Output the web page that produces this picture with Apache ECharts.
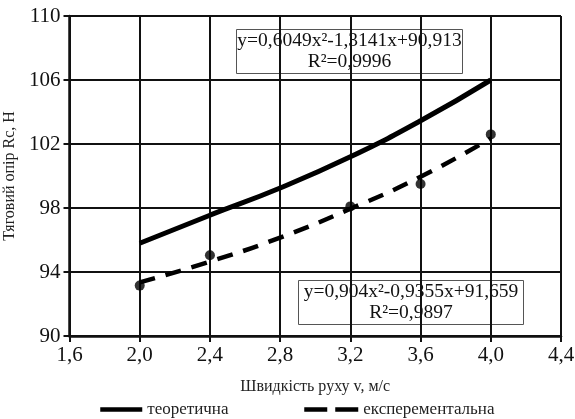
<!DOCTYPE html>
<html>
<head>
<meta charset="utf-8">
<script src="https://cdn.jsdelivr.net/npm/echarts@6/dist/echarts.min.js"></script>
<style>
html,body{margin:0;padding:0;background:#fff;}
#chart{width:575px;height:419px;}
</style>
</head>
<body>
<div id="chart"></div>
<script>
// Speed values, m/s
const speeds = [2.0, 2.4, 2.8, 3.2, 3.6, 4.0];
// Theoretical traction resistance, N
const theoretical = [95.8, 97.55, 99.25, 101.2, 103.45, 106.0];
// Trend through the experimental measurements, N
const experimentalTrend = [93.35, 94.65, 96.15, 97.95, 99.95, 102.35];
// Measured points (speed, resistance)
const measuredSpeeds = [2.0, 2.4, 3.2, 3.6, 4.0];
const measuredValues = [93.15, 95.05, 98.1, 99.5, 102.6];

const seriesNames = ['теоретична', 'експерементальна'];
const xTitle = 'Швидкість руху v, м/с';
const yTitle = 'Тяговий опір Rc, Н';
const eqTheory = ['y=0,6049x²-1,3141x+90,913', 'R²=0,9996'];
const eqExp = ['y=0,904x²-0,9355x+91,659', 'R²=0,9897'];

const font = 'Liberation Serif, Times New Roman, serif';
const chart = echarts.init(document.getElementById('chart'), null, {renderer: 'canvas'});

const pairs = (xs, ys) => xs.map((x, i) => [x, ys[i]]);

function eqBox(lines, left, top, w, h) {
  return {
    type: 'group', left: left, top: top,
    children: [
      {type: 'rect', shape: {x: 0, y: 0, width: w, height: h},
       style: {fill: '#fff', stroke: '#555', lineWidth: 1}},
      {type: 'text', style: {x: w / 2, y: 1, text: lines.join('\n'), align: 'center', verticalAlign: 'top',
        font: '19.5px ' + font, lineHeight: 21, fill: '#111'}}
    ]
  };
}

const legendText = {fontFamily: font, fontSize: 17, color: '#222'};

chart.setOption({
  animation: false,
  backgroundColor: '#fff',
  grid: {left: 69.5, right: 14, top: 16, bottom: 83, containLabel: false, outerBoundsMode: 'none'},
  xAxis: {
    type: 'value', min: 1.6, max: 4.4, interval: 0.4,
    name: xTitle, nameLocation: 'middle', nameGap: 43,
    nameTextStyle: {fontFamily: font, fontSize: 16, color: '#222'},
    axisLine: {lineStyle: {color: '#111', width: 2.5}},
    axisTick: {show: true, length: 6, lineStyle: {color: '#111', width: 2}},
    axisLabel: {fontFamily: font, fontSize: 21, color: '#111', margin: 9,
      formatter: v => v.toFixed(1).replace('.', ',')},
    splitLine: {show: true, lineStyle: {color: '#111', width: 2}}
  },
  yAxis: {
    type: 'value', min: 90, max: 110, interval: 4,
    name: yTitle, nameLocation: 'middle', nameGap: 49,
    nameTextStyle: {fontFamily: font, fontSize: 16, color: '#222'},
    axisLine: {show: true, lineStyle: {color: '#111', width: 2.5}},
    axisTick: {show: true, length: 6, lineStyle: {color: '#111', width: 2}},
    axisLabel: {fontFamily: font, fontSize: 21, color: '#111', margin: 9},
    splitLine: {show: true, lineStyle: {color: '#111', width: 2}}
  },
  legend: [
    {data: [seriesNames[0]], left: 93, top: 396, itemWidth: 42, itemHeight: 10, itemGap: 12,
     itemStyle: {opacity: 0}, lineStyle: {width: 4.5}, textStyle: legendText},
    {data: [seriesNames[1]], left: 297, top: 396, itemWidth: 54, itemHeight: 10, itemGap: 12,
     itemStyle: {opacity: 0}, lineStyle: {width: 4.5, type: [23, 8]}, textStyle: legendText}
  ],
  series: [
    {
      name: seriesNames[0], type: 'line', smooth: true, symbol: 'none',
      data: pairs(speeds, theoretical),
      lineStyle: {color: '#000', width: 5}, itemStyle: {color: '#000'}, z: 5
    },
    {
      name: seriesNames[1], type: 'line', smooth: true, symbol: 'none',
      data: pairs(speeds, experimentalTrend),
      lineStyle: {color: '#000', width: 4.5, type: [16, 11]}, itemStyle: {color: '#000'}, z: 5
    },
    {
      name: 'measured', type: 'scatter', symbol: 'circle', symbolSize: 10,
      data: pairs(measuredSpeeds, measuredValues),
      itemStyle: {color: '#000'}, z: 6
    }
  ],
  graphic: [
    eqBox(eqTheory, 236, 29, 226, 44),
    eqBox(eqExp, 298, 280, 225, 44)
  ]
});
</script>
</body>
</html>
